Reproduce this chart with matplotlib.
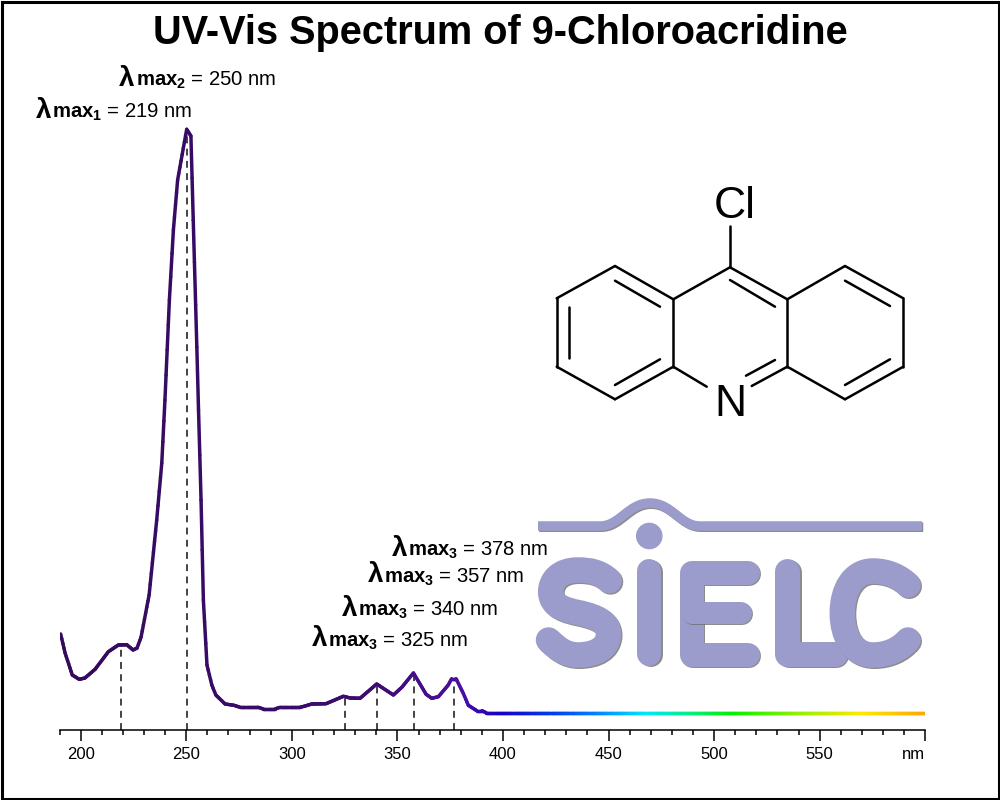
import matplotlib
matplotlib.use('Agg')
import matplotlib.pyplot as plt
import matplotlib.patheffects as pe
from matplotlib.collections import LineCollection
from matplotlib.colors import LinearSegmentedColormap, Normalize
from matplotlib.patches import Circle, PathPatch, Rectangle
from matplotlib.path import Path
import numpy as np

plt.rcParams['font.family'] = ['Liberation Sans', 'DejaVu Sans']
plt.rcParams['mathtext.fontset'] = 'custom'
plt.rcParams['mathtext.rm'] = 'Liberation Sans'
plt.rcParams['mathtext.bf'] = 'Liberation Sans:bold'

# spectrum (nm, height above the axis)
wavelength = [190.5, 192.6, 196.0, 199.3, 202.0, 206.8, 213.1, 217.8, 221.8, 224.8, 226.7,
              228.6, 232.4, 236.0, 238.4, 239.9, 242.0, 243.9, 245.9, 250.2, 252.2, 253.3,
              255.0, 255.8, 257.0, 258.1, 259.8, 262.1, 264.0, 268.4, 270.7, 272.6, 275.5,
              284.1, 286.5, 292.0, 294.4, 303.9, 306.3, 309.4, 316.2, 324.4, 327.6, 332.3,
              340.2, 348.1, 352.1, 357.6, 363.6, 366.3, 369.4, 374.1, 375.7, 377.8, 381.2,
              383.6, 387.6, 390.0, 392.0, 600.0]
absorbance = [96, 77, 55, 50.7, 52, 60.7, 78.3, 85, 85.3, 80, 82,
              93, 135, 210, 267, 330, 430, 500, 550, 600.7, 594, 510,
              383, 320, 230, 130, 65, 45, 35, 26, 25.3, 24.7, 22.7,
              22.7, 21, 21, 22.7, 22.7, 24, 26, 26.3, 33.7, 32, 31.7,
              46, 35, 42.7, 57, 35.7, 31.7, 33.3, 45, 51.3, 51.3, 36.7,
              24.7, 19.3, 19.3, 17.3, 17.3]

peak_nm = [219.2, 250.2, 325.1, 340.5, 357.7, 377.0]
peak_top = [85, 600, 34, 46, 57, 51]

major_ticks = [200, 250, 300, 350, 400, 450, 500, 550, 600]
major_labels = ['200', '250', '300', '350', '400', '450', '500', '550', 'nm']
minor_ticks = [190, 210, 220, 230, 240, 260, 270, 280, 290, 310, 320, 330, 340, 360, 370, 380,
               390, 410, 420, 430, 440, 460, 470, 480, 490, 510, 520, 530, 540, 560, 570, 580, 590]

color_nm = [190, 340, 380, 400, 425, 446, 468, 490, 509, 540, 571, 600]
color_hex = ['#340a5c', '#3c0c70', '#4a10a0', '#1800c8', '#0040f0', '#0088ff', '#00e5ff',
             '#00f080', '#00f000', '#90f000', '#ffe800', '#ffa800']

peak_labels = [('max_{1}', ' = 219 nm', 36, 117.5, 52.5),
               ('max_{2}', ' = 250 nm', 119, 86, 135.5),
               ('max_{3}', ' = 325 nm', 311.5, 646.5, 327.5),
               ('max_{3}', ' = 340 nm', 341.5, 616, 357.5),
               ('max_{3}', ' = 357 nm', 368, 582.5, 384),
               ('max_{3}', ' = 378 nm', 391.5, 556, 407.5)]

fig = plt.figure(figsize=(10, 8), dpi=100, facecolor='white')

ax = fig.add_axes([0.0596, 70 / 800, 0.8656, 670 / 800])
ax.set_xlim(190, 600)
ax.set_ylim(0, 670)
ax.patch.set_alpha(0)
for side in ['left', 'top', 'right']:
    ax.spines[side].set_visible(False)
ax.spines['bottom'].set_linewidth(1.1)
ax.set_yticks([])
ax.set_xticks(major_ticks)
ax.set_xticklabels(major_labels)
ax.set_xticks(minor_ticks, minor=True)
ax.tick_params(axis='x', which='major', length=8, width=1.1, labelsize=12, pad=4)
ax.tick_params(axis='x', which='minor', length=3.6, width=1.1)
ax.get_xticklabels()[-1].set_ha('right')

# the line keeps its vertices, the long pieces are only split for the colour gradient
cmap = LinearSegmentedColormap.from_list(
    'spectrum', [((n - 190) / 410, c) for n, c in zip(color_nm, color_hex)])
segments = []
mids = []
for i in range(len(wavelength) - 1):
    n = max(1, int((wavelength[i + 1] - wavelength[i]) / 0.5))
    xs = np.linspace(wavelength[i], wavelength[i + 1], n + 1)
    ys = np.linspace(absorbance[i], absorbance[i + 1], n + 1)
    for j in range(n):
        segments.append([(xs[j], ys[j]), (xs[j + 1], ys[j + 1])])
        mids.append((xs[j] + xs[j + 1]) / 2)
line = LineCollection(segments, cmap=cmap, norm=Normalize(190, 600), linewidths=2.5,
                      capstyle='round', zorder=3)
line.set_array(np.array(mids))
ax.add_collection(line)

ax.vlines(peak_nm, 0, peak_top, colors='#111111', linewidth=1.1,
          linestyles=(0, (4.5, 3.5)), zorder=2)

# overlay in pixel coordinates for frame, title, structure and logo
top = fig.add_axes([0, 0, 1, 1])
top.set_xlim(0, 1000)
top.set_ylim(800, 0)
top.axis('off')
top.patch.set_alpha(0)

top.add_patch(Rectangle((1.5, 1.5), 997, 797, fill=False, edgecolor='black', linewidth=2.2))
top.text(500, 33, 'UV-Vis Spectrum of 9-Chloroacridine', fontsize=28.65, fontweight='bold',
         ha='center', va='center')

for sub, rest, lam_x, base_y, text_x in peak_labels:
    top.text(lam_x, base_y, 'λ', fontsize=20, fontweight='bold', ha='left', va='baseline')
    top.text(text_x, base_y, '$\\mathbf{' + sub + '}$' + rest, fontsize=14.6, ha='left', va='baseline')

# 9-chloroacridine
bonds = [((730, 226), (730, 267.3)), ((730, 267.3), (787.3, 299.3)), ((787.3, 299.3), (787.3, 366.7)),
         ((787.3, 366.7), (751.7, 386)), ((673.3, 366.7), (706.7, 386.7)), ((673.3, 366.7), (673.3, 299.3)),
         ((673.3, 299.3), (730, 267.3)), ((673.3, 299.3), (615, 266)), ((615, 266), (556.7, 298.3)),
         ((556.7, 298.3), (556.7, 366.7)), ((556.7, 366.7), (615, 399.3)), ((615, 399.3), (673.3, 366.7)),
         ((787.3, 299.3), (845, 266)), ((845, 266), (903.3, 298.3)), ((903.3, 298.3), (903.3, 366.7)),
         ((903.3, 366.7), (845, 399.3)), ((845, 399.3), (787.3, 366.7)),
         ((730, 280), (775, 306.7)), ((615, 280.7), (660, 306.7)), ((569.3, 307.3), (569.3, 358.3)),
         ((615, 385), (660, 359.3)), ((845, 280.7), (890, 306)), ((845, 385), (890, 359.3)),
         ((746, 375.7), (775, 360))]
for a, b in bonds:
    top.plot([a[0], b[0]], [a[1], b[1]], color='black', linewidth=1.8, solid_capstyle='round')
top.text(735, 206.5, 'Cl', fontsize=32, ha='center', va='center')
top.text(730, 404, 'N', fontsize=32, ha='center', va='center')

# SIELC logo
logo_color = '#9c9ccc'
M, L, C = Path.MOVETO, Path.LINETO, Path.CURVE4
logo_strokes = [
    ([(538, 526), (600, 526), (620, 526), (628, 503), (650, 503), (672, 503), (680, 526), (700, 526), (922, 526)],
     [M, L, C, C, C, C, C, C, L], 9.5, 'butt'),
    ([(609.3, 580.7), (600, 572), (590, 570), (578, 570), (560, 570), (550.7, 580), (550.7, 592),
      (550.7, 606), (565, 610), (580, 613), (598, 617), (608.5, 623), (608.5, 634),
      (608.5, 648), (595, 655), (578, 655), (565, 655), (557, 648), (548.5, 640)],
     [M] + [C] * 18, 25.5, 'round'),
    ([(649.3, 571), (649.3, 654)], [M, L], 24, 'round'),
    ([(748, 573), (691.7, 573), (691.7, 655), (748, 655)], [M, L, L, L], 24, 'round'),
    ([(691.7, 612.7), (741, 612.7)], [M, L], 22, 'round'),
    ([(787.3, 571), (787.3, 654), (835, 654)], [M, L, L], 25, 'round'),
    ([(908, 585), (900, 577), (888, 571), (873, 571), (853, 571), (842.3, 590), (842.3, 613),
      (842.3, 636), (853, 655), (873, 655), (888, 655), (900, 649), (908, 640)],
     [M] + [C] * 12, 25.5, 'round'),
]
shadow = [pe.SimpleLineShadow(offset=(0.9, -0.9), shadow_color='#707070', alpha=0.8), pe.Normal()]
for verts, codes, width, cap in logo_strokes:
    top.add_patch(PathPatch(Path(verts, codes), fill=False, edgecolor=logo_color, linewidth=width * 0.72,
                            capstyle=cap, joinstyle='round', path_effects=shadow))
top.add_patch(Circle((649.3, 536), 13.3, facecolor=logo_color, edgecolor='none', path_effects=shadow))

plt.savefig('out.png', dpi=100)
